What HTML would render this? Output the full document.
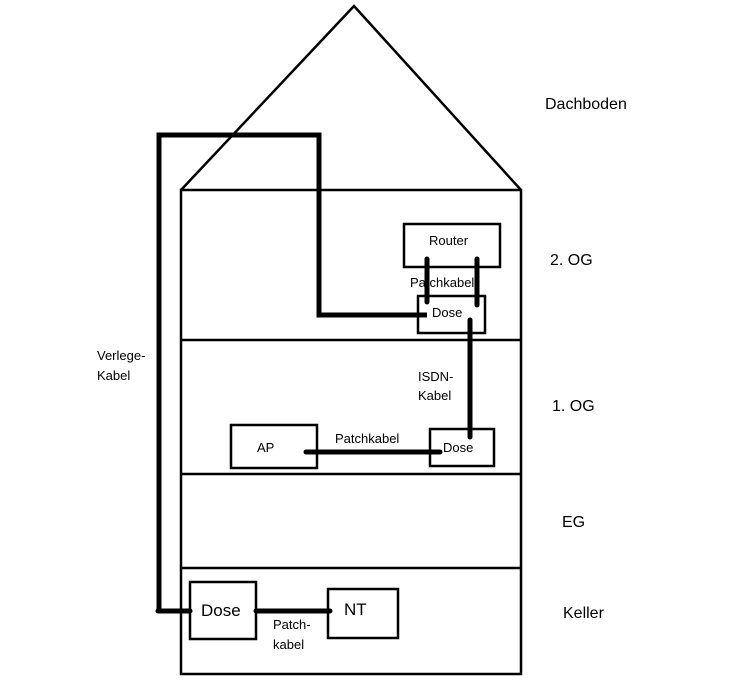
<!DOCTYPE html>
<html><head><meta charset="utf-8"><style>
html,body{margin:0;padding:0;background:#fff;}
svg{display:block;}
text{font-family:"Liberation Sans",sans-serif;fill:#000;}
</style></head><body>
<svg width="740" height="687" viewBox="0 0 740 687" xmlns="http://www.w3.org/2000/svg">
<g fill="none" stroke="#000" stroke-width="2.5">
<polyline points="181,190 354,6 521,190"/>
<rect x="181" y="190" width="340" height="484"/>
<line x1="181" y1="340" x2="521" y2="340"/>
<line x1="181" y1="474" x2="521" y2="474"/>
<line x1="181" y1="568" x2="521" y2="568"/>
<rect x="404" y="224" width="96" height="43"/>
<rect x="418" y="296" width="67" height="37"/>
<rect x="231" y="425" width="86" height="43"/>
<rect x="430" y="429" width="64" height="37"/>
<rect x="190" y="582" width="66" height="57"/>
<rect x="328" y="589" width="70" height="49"/>
</g>
<g fill="none" stroke="#000" stroke-width="5" stroke-linecap="round" stroke-linejoin="miter">
<polyline points="158,611 159,611 159,135 319,135 319,315 427,315" stroke-linecap="butt"/>
<line x1="158" y1="611" x2="190" y2="611"/>
<line x1="427" y1="259" x2="427" y2="302"/>
<line x1="477" y1="259" x2="477" y2="305"/>
<line x1="470" y1="320" x2="470" y2="437"/>
<line x1="306" y1="452" x2="440" y2="452"/>
<line x1="256" y1="611" x2="330" y2="611"/>
</g>
<g font-size="16">
<text x="545" y="109">Dachboden</text>
<text x="550" y="265">2. OG</text>
<text x="552" y="411">1. OG</text>
<text x="562" y="527">EG</text>
<text x="563" y="618">Keller</text>
</g>
<g font-size="13">
<text x="429" y="245">Router</text>
<text x="410" y="287">Patchkabel</text>
<text x="432" y="317">Dose</text>
<text x="97" y="360">Verlege-</text>
<text x="97" y="380">Kabel</text>
<text x="418" y="381">ISDN-</text>
<text x="418" y="400">Kabel</text>
<text x="257" y="452">AP</text>
<text x="335" y="443">Patchkabel</text>
<text x="443" y="452">Dose</text>
<text x="273" y="629">Patch-</text>
<text x="273" y="649">kabel</text>
</g>
<g font-size="17">
<text x="201" y="616">Dose</text>
<text x="344" y="615">NT</text>
</g>
</svg>
</body></html>
